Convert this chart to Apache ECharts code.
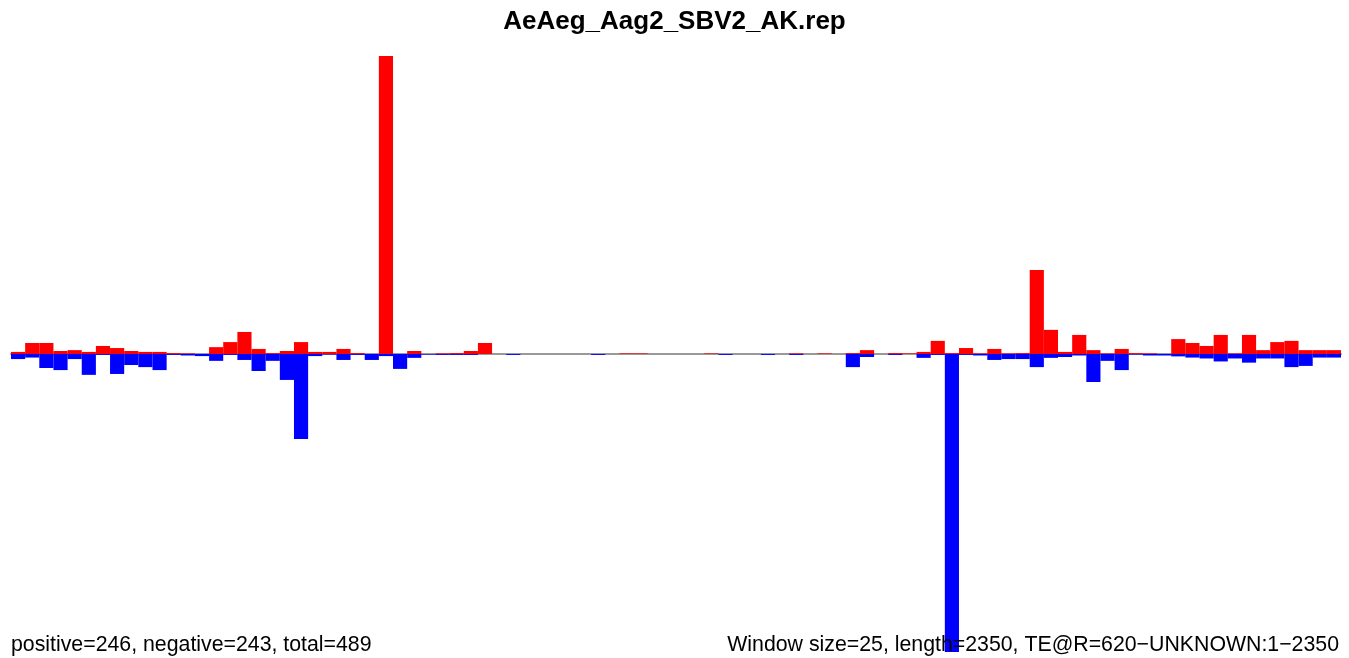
<!DOCTYPE html>
<html>
<head>
<meta charset="utf-8">
<script src="https://cdn.jsdelivr.net/npm/echarts@6/dist/echarts.min.js"></script>
<style>
html,body{margin:0;padding:0;background:#fff;}
#chart{width:1349px;height:658px;}
</style>
</head>
<body>
<div id="chart"></div>
<script>
// window start positions (window size 25, length 2350 -> 94 windows)
const windowStarts = Array.from({length: 94}, (_, i) => String(i * 25 + 1));

// sense (positive strand) coverage per window
const positiveValues = [
  0.7, 3.7, 3.7, 1.0, 1.3, 0.7, 2.7, 2.0, 1.0, 0.7,
  0.7, 0.3, 0.2, 0, 2.3, 4.0, 7.4, 1.7, 0.3, 1.0,
  4.0, 0.7, 0.7, 1.7, 0.3, 0, 100, 0, 1.0, 0,
  0.2, 0.3, 1.0, 3.7, 0, 0, 0, 0, 0, 0,
  0, 0, 0, 0.2, 0.2, 0, 0, 0, 0, 0.2,
  0, 0, 0, 0, 0, 0.2, 0, 0.2, 0, 0.3,
  1.3, 0, 0.3, 0.2, 0.7, 4.4, 0.3, 2.0, 0.2, 1.7,
  0.2, 0.3, 28.2, 8.1, 0.7, 6.4, 1.3, 0.2, 1.7, 0.3,
  0.2, 0, 5.0, 3.7, 2.7, 6.4, 0.2, 6.4, 1.3, 4.0,
  4.4, 1.3, 1.3, 1.3
];

// antisense (negative strand) coverage per window
const negativeValues = [
  -1.7, -1.2, -4.7, -5.4, -1.7, -7.0, -0.3, -6.7, -3.7, -4.4,
  -5.4, -0.3, -0.5, -0.7, -2.3, -0.3, -2.0, -5.7, -2.3, -8.7,
  -28.5, -0.7, -0.2, -2.0, -0.3, -2.0, -0.7, -5.0, -1.3, -0.2,
  -0.3, -0.3, -0.3, 0, 0, -0.3, 0, 0, 0, 0,
  0, -0.3, 0, 0, 0, 0, 0, 0, 0, 0,
  -0.3, 0, 0, -0.3, 0, -0.3, 0, 0, 0, -4.4,
  -1.0, 0, -0.3, 0, -1.3, -0.3, -100, -0.3, -0.5, -2.0,
  -1.7, -1.7, -4.4, -1.3, -1.0, -0.5, -9.4, -2.3, -5.4, -0.2,
  -0.5, -0.5, -0.8, -1.2, -1.5, -2.5, -1.5, -2.9, -1.5, -1.5,
  -4.4, -4.0, -1.2, -1.2
];

const titleText = 'AeAeg_Aag2_SBV2_AK.rep';
const leftNote = 'positive=246, negative=243, total=489';
const rightNote = 'Window size=25, length=2350, TE@R=620\u2212UNKNOWN:1\u22122350';
const yLimit = 100;

const chart = echarts.init(document.getElementById('chart'), null, {renderer: 'canvas'});
const font = '"Liberation Sans", Arial, Helvetica, sans-serif';
chart.setOption({
  animation: false,
  backgroundColor: '#ffffff',
  title: [
    {text: titleText, left: 'center', top: 4,
     textStyle: {fontFamily: font, fontWeight: 'bold', fontSize: 26, color: '#000'}},
    {text: leftNote, left: 6, top: 630,
     textStyle: {fontFamily: font, fontWeight: 'normal', fontSize: 21.3, color: '#000'}},
    {text: rightNote, right: 5, top: 630,
     textStyle: {fontFamily: font, fontWeight: 'normal', fontSize: 21.3, color: '#000'}}
  ],
  grid: {left: 11, right: 8, top: 56, bottom: 6, containLabel: false},
  xAxis: {
    type: 'category',
    data: windowStarts,
    boundaryGap: true,
    axisLine: {show: true, onZero: true, lineStyle: {color: '#9a9a9a', width: 2}},
    axisTick: {show: false},
    axisLabel: {show: false},
    splitLine: {show: false}
  },
  yAxis: {
    type: 'value',
    min: -yLimit,
    max: yLimit,
    show: false,
    splitLine: {show: false}
  },
  series: [
    {type: 'bar', name: 'positive', data: positiveValues, barWidth: '100%', barGap: '-100%',
     itemStyle: {color: '#ff0000'}},
    {type: 'bar', name: 'negative', data: negativeValues, barWidth: '100%', barGap: '-100%',
     itemStyle: {color: '#0000ff'}}
  ]
});
</script>
</body>
</html>
